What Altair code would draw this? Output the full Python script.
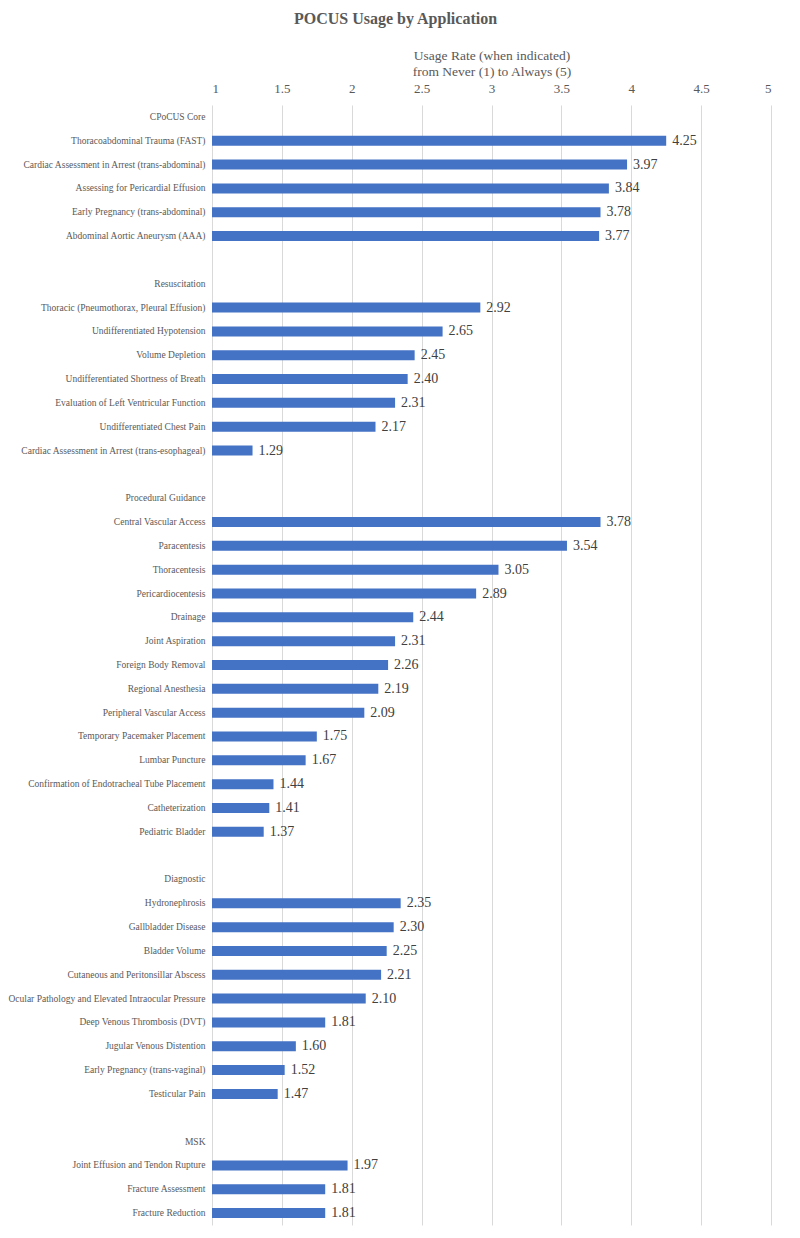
import altair as alt
import pandas as pd

groups = ["CPoCUS Core", "Resuscitation", "Procedural Guidance", "Diagnostic", "MSK"]

core_apps = ["Thoracoabdominal Trauma (FAST)", "Cardiac Assessment in Arrest (trans-abdominal)",
             "Assessing for Pericardial Effusion", "Early Pregnancy (trans-abdominal)",
             "Abdominal Aortic Aneurysm (AAA)"]
core_vals = [4.25, 3.97, 3.84, 3.78, 3.77]

resus_apps = ["Thoracic (Pneumothorax, Pleural Effusion)", "Undifferentiated Hypotension",
              "Volume Depletion", "Undifferentiated Shortness of Breath",
              "Evaluation of Left Ventricular Function", "Undifferentiated Chest Pain",
              "Cardiac Assessment in Arrest (trans-esophageal)"]
resus_vals = [2.92, 2.65, 2.45, 2.40, 2.31, 2.17, 1.29]

proc_apps = ["Central Vascular Access", "Paracentesis", "Thoracentesis", "Pericardiocentesis",
             "Drainage", "Joint Aspiration", "Foreign Body Removal", "Regional Anesthesia",
             "Peripheral Vascular Access", "Temporary Pacemaker Placement", "Lumbar Puncture",
             "Confirmation of Endotracheal Tube Placement", "Catheterization", "Pediatric Bladder"]
proc_vals = [3.78, 3.54, 3.05, 2.89, 2.44, 2.31, 2.26, 2.19, 2.09, 1.75, 1.67, 1.44, 1.41, 1.37]

diag_apps = ["Hydronephrosis", "Gallbladder Disease", "Bladder Volume",
             "Cutaneous and Peritonsillar Abscess", "Ocular Pathology and Elevated Intraocular Pressure",
             "Deep Venous Thrombosis (DVT)", "Jugular Venous Distention",
             "Early Pregnancy (trans-vaginal)", "Testicular Pain"]
diag_vals = [2.35, 2.30, 2.25, 2.21, 2.10, 1.81, 1.60, 1.52, 1.47]

msk_apps = ["Joint Effusion and Tendon Rupture", "Fracture Assessment", "Fracture Reduction"]
msk_vals = [1.97, 1.81, 1.81]

sections = [(groups[0], core_apps, core_vals), (groups[1], resus_apps, resus_vals),
            (groups[2], proc_apps, proc_vals), (groups[3], diag_apps, diag_vals),
            (groups[4], msk_apps, msk_vals)]

rows = []
for i, (g, apps, vals) in enumerate(sections):
    if i > 0:
        rows.append({"key": f"__blank{i}", "value": None})
    rows.append({"key": g, "value": None})
    for a, v in zip(apps, vals):
        rows.append({"key": a, "value": v})

df = pd.DataFrame(rows)
order = list(df["key"])
bars_df = df.dropna(subset=["value"]).copy()
bars_df["base"] = 1.0
bars_df["txt"] = bars_df["value"].map(lambda v: f"{v:.2f}")

serif = "Liberation Serif"

y_axis = alt.Axis(title=None, ticks=False, domain=False, labelFont=serif, labelFontSize=9.5,
                  labelColor="#595959", labelPadding=7, labelLimit=300,
                  labelExpr="indexof(datum.label, '__blank') == 0 ? '' : datum.label")
x_axis = alt.Axis(orient="top", values=[1, 1.5, 2, 2.5, 3, 3.5, 4, 4.5, 5],
                  labelExpr="datum.value", ticks=False, domain=False,
                  grid=True, gridColor="#d9d9d9", gridWidth=1,
                  labelFont=serif, labelFontSize=13, labelColor="#595959", labelPadding=10,
                  title=["Usage Rate (when indicated)", "from  Never (1) to Always  (5)"],
                  titleFont=serif, titleFontSize=13.5, titleFontWeight="normal",
                  titleColor="#595959", titlePadding=4)

x_scale = alt.Scale(domain=[1, 5], nice=False, zero=False)
y_scale = alt.Scale(domain=order, paddingInner=0, paddingOuter=0)

base = alt.Chart(df).mark_tick(opacity=0).encode(
    y=alt.Y("key:N", sort=order, scale=y_scale, axis=y_axis),
    x=alt.X("value:Q", scale=x_scale, axis=x_axis),
)

bars = alt.Chart(bars_df).mark_bar(color="#4472C4", size=10).encode(
    y=alt.Y("key:N", sort=order, scale=y_scale, axis=y_axis),
    x=alt.X("value:Q", scale=x_scale, axis=x_axis),
    x2="base:Q",
)

labels = alt.Chart(bars_df).mark_text(align="left", baseline="middle", dx=6, font=serif,
                                      fontSize=14, color="#404040").encode(
    y=alt.Y("key:N", sort=order, scale=y_scale, axis=y_axis),
    x=alt.X("value:Q", scale=x_scale, axis=x_axis),
    text="txt:N",
)

chart = alt.layer(base, bars, labels).properties(
    width=559, height=1120,
    title=alt.TitleParams("POCUS Usage by Application", font=serif, fontSize=16, fontWeight="bold",
                          color="#595959", anchor="middle", dx=-96, offset=22),
    autosize=alt.AutoSizeParams(type="none"),
    padding={"left": 204, "top": 97, "right": 21, "bottom": 5},
).configure(font=serif).configure_view(stroke=None).configure_axis(
    labelFont=serif, titleFont=serif, labelColor="#595959", titleColor="#595959"
)

chart.save("out.html", embed_options={"renderer": "svg", "actions": False})
